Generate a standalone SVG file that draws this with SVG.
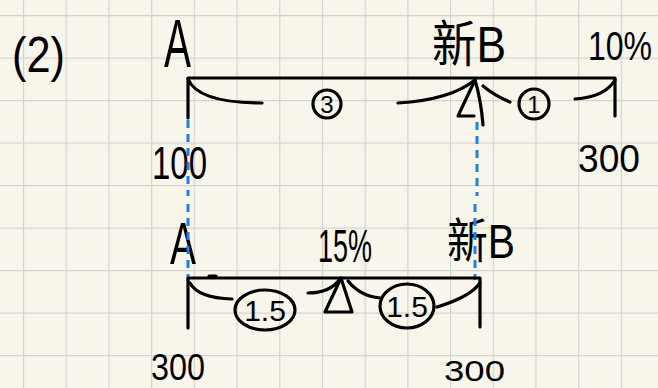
<svg xmlns="http://www.w3.org/2000/svg" width="658" height="388" viewBox="0 0 658 388">
<defs>
<pattern id="grid" x="23" y="15" width="42.7" height="42.5" patternUnits="userSpaceOnUse">
<path d="M0,0 V42.5 M0,0 H42.7" fill="none" stroke="#d2d2d0" stroke-width="2.4"/>
</pattern>
<style>
.ln{fill:none;stroke:#000;stroke-width:3.2;stroke-linecap:round;stroke-linejoin:round}
.bl{fill:none;stroke:#1a7df0;stroke-width:3;stroke-dasharray:8,6}
.t{font-family:"Liberation Sans","Noto Sans CJK SC",sans-serif;fill:#000}
</style>
</defs>
<rect width="658" height="388" fill="#f8f6eb"/>
<rect width="658" height="388" fill="url(#grid)"/>
<g id="labels">
<text class="t" x="12" y="72" font-size="50" textLength="53" lengthAdjust="spacingAndGlyphs">(2)</text>
</g>
<g id="top-A"><text class="t" x="164" y="67" font-size="68" textLength="27" lengthAdjust="spacingAndGlyphs">A</text></g>
<g id="top-newB"><text class="t" x="432" y="62" font-size="50" textLength="74" lengthAdjust="spacingAndGlyphs">新B</text></g>
<g id="top-10pct"><text class="t" transform="translate(588,60) scale(1,1.25)" font-size="32">10%</text></g>
<g id="top-100"><text class="t" x="152" y="179" font-size="46" textLength="55" lengthAdjust="spacingAndGlyphs">100</text></g>
<g id="top-300"><text class="t" x="578" y="172" font-size="38" textLength="62" lengthAdjust="spacingAndGlyphs">300</text></g>
<g id="top-ratio3"><circle class="ln" cx="327" cy="104" r="14"/><text class="t" x="327" y="113" font-size="24" text-anchor="middle">3</text></g>
<g id="top-ratio1"><circle class="ln" cx="534" cy="104" r="15"/><text class="t" x="534" y="113" font-size="24" text-anchor="middle">1</text></g>
<g id="bot-A"><text class="t" x="170" y="264" font-size="60" textLength="26" lengthAdjust="spacingAndGlyphs">A</text></g>
<g id="bot-15pct"><text class="t" x="318" y="262" font-size="46" textLength="54" lengthAdjust="spacingAndGlyphs">15%</text></g>
<g id="bot-newB"><text class="t" x="447" y="258" font-size="48" textLength="68" lengthAdjust="spacingAndGlyphs">新B</text></g>
<g id="bot-300a"><text class="t" x="151" y="380" font-size="36" textLength="54" lengthAdjust="spacingAndGlyphs">300</text></g>
<g id="bot-300b"><text class="t" x="444" y="381" font-size="30" textLength="61" lengthAdjust="spacingAndGlyphs">300</text></g>
<g id="bot-ratioL"><ellipse class="ln" cx="265" cy="310" rx="30" ry="20"/><text class="t" x="265" y="321" font-size="30" text-anchor="middle">1.5</text></g>
<g id="bot-ratioR"><ellipse class="ln" cx="407" cy="306" rx="27" ry="22"/><text class="t" x="407" y="317" font-size="30" text-anchor="middle">1.5</text></g>
<g id="connectors">
<path class="bl" d="M188,120 V196 M477,122 V196 M188,204 V280 M475,204 V280"/>
<path class="ln" d="M188,78 H615 M188,78 V118 M615,78 V116"/>
<path class="ln" d="M188,79 Q198,103 262,103"/>
<path class="ln" d="M398,103 Q450,100 475,80"/>
<path class="ln" d="M475,80 L458,116 L474,116 M475,80 Q481,100 483,125"/>
<path class="ln" d="M483,86 Q495,96 510,102"/>
<path class="ln" d="M575,99 Q605,97 615,80"/>
<path class="ln" d="M188,278 H480 M188,278 V328 M480,278 V327"/>
<path class="ln" d="M209,276 H216"/>
<path class="ln" d="M190,283 Q198,298 232,299"/>
<path class="ln" d="M308,293 Q330,293 340,279"/>
<path class="ln" d="M341,278 L325,312 L352,312 Z"/>
<path class="ln" d="M348,281 Q360,296 380,298"/>
<path class="ln" d="M437,307 Q470,297 480,283"/>
</g>
</svg>
